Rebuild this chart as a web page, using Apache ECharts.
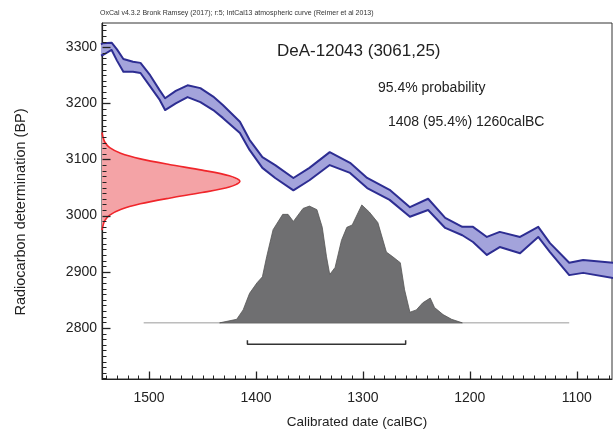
<!DOCTYPE html>
<html><head><meta charset="utf-8">
<script src="https://cdn.jsdelivr.net/npm/echarts@6/dist/echarts.min.js"></script>
<style>html,body{margin:0;padding:0;background:#fff}#c{width:613px;height:434px}</style>
</head><body><div id="c"></div>
<script>
// ---- axis ticks ----
const xMajorTicks = [1500, 1400, 1300, 1200, 1100];
const yMajorTicks = [2800, 2900, 3000, 3100, 3200, 3300];

// ---- IntCal13 calibration band (calBC, upper BP, lower BP) ----
const calYear = [1545,1543,1535,1530,1524,1515,1508,1499,1490,1485,1475,1464,1452,1440,1431,1415,1406,1394,1382,1365,1350,1331,1312,1296,1275,1256,1239,1223,1207,1197,1184,1172,1153,1136,1125,1107,1094,1066];
const calHigh = [3305,3307,3308,3296,3279,3274,3272,3250,3223,3209,3222,3232,3227,3212,3197,3167,3135,3104,3090,3067,3085,3113,3094,3067,3046,3015,3030,2996,2980,2980,2962,2971,2962,2980,2951,2916,2921,2916];
const calLow  = [3285,3286,3295,3276,3256,3256,3254,3230,3206,3188,3200,3211,3202,3188,3174,3147,3117,3085,3067,3045,3063,3090,3076,3049,3028,2998,3010,2978,2965,2953,2930,2944,2933,2962,2935,2894,2898,2889];

// ---- measured radiocarbon date 3061 ± 25 BP (relative density) ----
const redBP  = [2974,2981,2991,3001,3011,3021,3031,3041,3051,3061,3071,3081,3091,3101,3111,3121,3131,3141,3148];
const redRel = [0,0.006,0.02,0.056,0.135,0.278,0.487,0.726,0.923,1,0.923,0.726,0.487,0.278,0.135,0.056,0.02,0.006,0];

// ---- calibrated probability distribution (calBC, relative height 0-100) ----
const distYear = [1434,1418,1412,1406,1399,1394,1390,1384,1375,1370,1365,1356,1350,1343,1338,1334,1331,1326,1320,1315,1310,1301,1294,1286,1278,1272,1265,1261,1256,1250,1244,1237,1233,1225,1217,1207];
const distProb = [0,3,11,25,34,39,56,79,92,92,86,97,99,96,81,56,41,47,70,81,83,100,94,85,60,56,51,28,9,11,17,21,13,7,3,0];
const distBaseBP = 2809;     // baseline of distribution in BP units
const distScale = 2.1;       // BP units per 1 % of height
const distBaseline = [1505, 1107];

// ---- 95.4% range ----
const rangeFrom = 1408, rangeTo = 1260, rangeBP = 2771, rangeTipBP = 2778;

const redAmp = 129; // years of width at the peak
const xMin = 1067, xMax = 1544, yMin = 2709, yMax = 3343;

const minorX = [], minorY = [];
for (let v = 1070; v <= 1540; v += 10) if (v % 100) minorX.push(v);
for (let v = 2710; v <= 3340; v += 10) if (v % 100) minorY.push(v);

const FONT = "'Liberation Sans', Arial, sans-serif";
const chart = echarts.init(document.getElementById('c'), null, {renderer: 'canvas'});
const plain = v => String(v);

const option = {
  animation: false,
  backgroundColor: '#fff',
  grid: {left: 102, right: 1, top: 23, bottom: 55, containLabel: false, show: true, borderColor: '#333', borderWidth: 1},
  xAxis: {type: 'value', min: xMin, max: xMax, inverse: true, position: 'bottom', splitLine: {show: false},
    axisLine: {show: true, lineStyle: {color: '#222', width: 1.2}},
    axisTick: {show: false},
    axisLabel: {show: true, customValues: xMajorTicks, formatter: plain, margin: 12, fontSize: 14, color: '#222', fontFamily: FONT}},
  yAxis: {type: 'value', min: yMin, max: yMax, position: 'left', splitLine: {show: false},
    axisLine: {show: true, lineStyle: {color: '#222', width: 1.2}},
    axisTick: {show: false},
    axisLabel: {show: true, customValues: yMajorTicks, formatter: plain, margin: 5, fontSize: 14, color: '#222', fontFamily: FONT}},
  graphic: [
    {type: 'text', left: 100, top: 10, style: {text: 'OxCal v4.3.2 Bronk Ramsey (2017); r:5; IntCal13 atmospheric curve (Reimer et al 2013)', font: '7px ' + FONT, fill: '#333'}},
    {type: 'text', x: 277, y: 51, style: {text: 'DeA-12043 (3061,25)', font: '17px ' + FONT, fill: '#222', verticalAlign: 'middle'}},
    {type: 'text', x: 378, y: 88, style: {text: '95.4% probability', font: '14px ' + FONT, fill: '#222', verticalAlign: 'middle'}},
    {type: 'text', x: 388, y: 122, style: {text: '1408 (95.4%) 1260calBC', font: '14px ' + FONT, fill: '#222', verticalAlign: 'middle'}},
    {type: 'text', x: 357, y: 422, style: {text: 'Calibrated date (calBC)', font: '13.5px ' + FONT, fill: '#222', align: 'center', verticalAlign: 'middle'}},
    {type: 'text', x: 21, y: 212, rotation: Math.PI / 2, style: {text: 'Radiocarbon determination (BP)', font: '14.5px ' + FONT, fill: '#222', align: 'center', verticalAlign: 'middle'}}
  ],
  series: [
    { // baseline of the distribution
      type: 'line', silent: true, symbol: 'none', z: 2,
      data: distBaseline.map(y => [y, distBaseBP]),
      lineStyle: {color: '#9a9a9a', width: 1}
    },
    { // calibrated distribution
      type: 'custom', silent: true, z: 3,
      data: [[1300, 3000]],
      renderItem: (params, api) => {
        const pts = distYear.map((y, i) => api.coord([y, distBaseBP + distProb[i] * distScale]));
        return {type: 'polygon', shape: {points: pts}, style: {fill: '#6f6f71', stroke: '#555', lineWidth: 0.8}};
      }
    },
    { // measured date gaussian
      type: 'custom', silent: true, z: 4,
      data: [[1300, 3000]],
      renderItem: (params, api) => {
        const edge = redBP.map((b, i) => api.coord([xMax - redRel[i] * redAmp, b]));
        const poly = [api.coord([xMax, redBP[0]])].concat(edge, [api.coord([xMax, redBP[redBP.length - 1]])]);
        return {type: 'group', children: [
          {type: 'polygon', shape: {points: poly}, style: {fill: '#f4a3a6', stroke: 'none'}},
          {type: 'polyline', shape: {points: edge, smooth: 0.3}, style: {stroke: '#f0262b', lineWidth: 1.6, fill: 'none'}}
        ]};
      }
    },
    { // calibration band
      type: 'custom', silent: true, z: 5,
      data: [[1300, 3000]],
      renderItem: (params, api) => {
        const top = calYear.map((y, i) => api.coord([y, calHigh[i]]));
        const bot = calYear.map((y, i) => api.coord([y, calLow[i]]));
        return {type: 'group', children: [
          {type: 'polygon', shape: {points: top.concat(bot.slice().reverse())}, style: {fill: '#a3a3db', stroke: 'none'}},
          {type: 'polyline', shape: {points: top}, style: {stroke: '#2d2d92', lineWidth: 2, fill: 'none', lineJoin: 'round'}},
          {type: 'polyline', shape: {points: bot}, style: {stroke: '#2d2d92', lineWidth: 2, fill: 'none', lineJoin: 'round'}}
        ]};
      }
    },
    { // 95.4% range bracket
      type: 'line', silent: true, symbol: 'none', z: 6,
      data: [[rangeFrom, rangeTipBP], [rangeFrom, rangeBP], [rangeTo, rangeBP], [rangeTo, rangeTipBP]],
      lineStyle: {color: '#333', width: 1.5}
    },
    { // inward axis ticks (major and minor), positioned through the axis scales
      type: 'custom', silent: true, z: 10, clip: false,
      data: [[1300, 3000]],
      renderItem: (params, api) => {
        const kids = [];
        const tick = (v, len, w, isX) => {
          const p = isX ? api.coord([v, yMin]) : api.coord([xMax, v]);
          const x1 = Math.round(p[0]) + 0.5, y1 = Math.round(p[1]) + 0.5;
          kids.push({type: 'line', shape: isX ? {x1: x1, y1: y1, x2: x1, y2: y1 - len} : {x1: x1, y1: y1, x2: x1 + len, y2: y1},
            style: {stroke: '#222', lineWidth: w}});
        };
        xMajorTicks.forEach(v => tick(v, 8, 1.3, true));
        minorX.forEach(v => tick(v, 4, 1, true));
        yMajorTicks.forEach(v => tick(v, 8, 1.3, false));
        minorY.forEach(v => tick(v, 4, 1, false));
        return {type: 'group', children: kids};
      }
    }
  ]
};
chart.setOption(option);
</script>
</body></html>
